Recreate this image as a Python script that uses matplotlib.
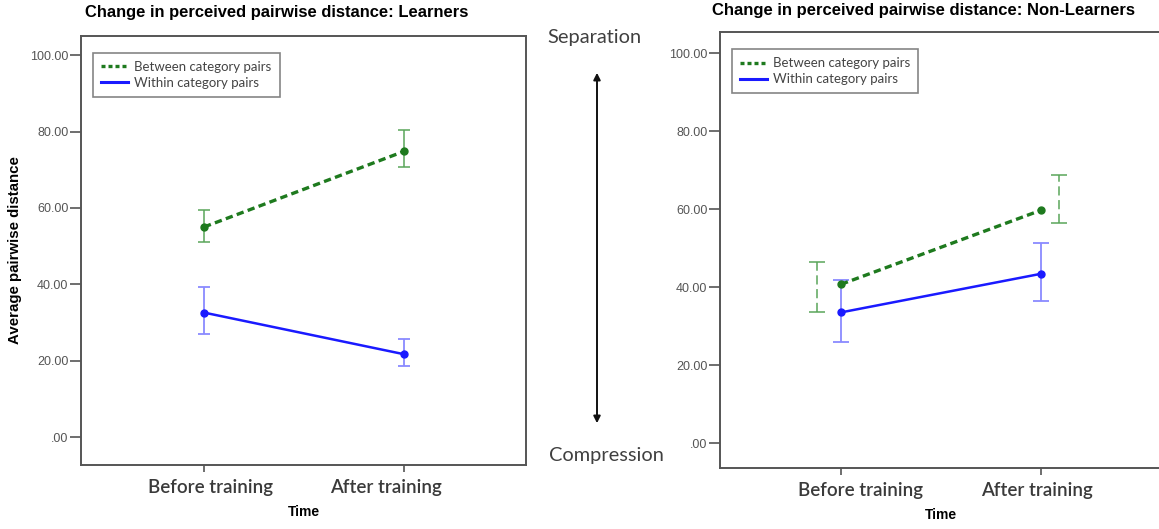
import matplotlib
matplotlib.use('Agg')
import matplotlib.pyplot as plt
from matplotlib.patches import FancyArrowPatch
from matplotlib.lines import Line2D

# --- Data ---
times = ['Before training', 'After training']

learn_between = [55.0, 74.8]
learn_between_lo = [51.2, 70.7]
learn_between_hi = [59.5, 80.4]
learn_within = [32.6, 21.7]
learn_within_lo = [27.0, 18.5]
learn_within_hi = [39.2, 25.7]

non_between = [40.8, 59.8]
non_between_lo = [33.7, 56.4]
non_between_hi = [46.4, 68.8]
non_within = [33.6, 43.5]
non_within_lo = [26.1, 36.6]
non_within_hi = [42.0, 51.3]

yticks = [0, 20, 40, 60, 80, 100]
ytick_labels = ['.00', '20.00', '40.00', '60.00', '80.00', '100.00']

GREEN = '#1e7a1e'
GREEN_ERR = '#5aa55a'
BLUE = '#1a1aff'
BLUE_ERR = '#8a8aff'
SPINE = '#555555'

W, H = 1159, 529
fig = plt.figure(figsize=(W / 100, H / 100), dpi=100)

ax1 = fig.add_axes([81 / W, 1 - 465 / H, 445 / W, 429 / H])
ax2 = fig.add_axes([720 / W, 1 - 468 / H, 442 / W, 436 / H])


def draw(ax, between, b_lo, b_hi, within, w_lo, w_hi, err_shift, dashed_err, caps,
         ylim, xlim, lab_shift):
    x = list(range(len(times)))
    # error bars
    ex = [xi + s for xi, s in zip(x, err_shift)]
    eb = ax.errorbar(ex, between, yerr=[[m - l for m, l in zip(between, b_lo)],
                                        [h - m for m, h in zip(between, b_hi)]],
                     fmt='none', ecolor=GREEN_ERR, elinewidth=1.1, capsize=caps, capthick=1.1, zorder=2)
    if dashed_err:
        for lc in eb[2]:
            lc.set_linestyle((0, (6, 3)))
    ax.errorbar(x, within, yerr=[[m - l for m, l in zip(within, w_lo)],
                                 [h - m for m, h in zip(within, w_hi)]],
                fmt='none', ecolor=BLUE_ERR, elinewidth=1.3, capsize=caps, capthick=1.3, zorder=2)
    # mean lines
    ax.plot(x, between, color=GREEN, lw=2.4, ls=(0, (2.2, 1.3)), marker='o', ms=5,
            label='Between category pairs', zorder=3)
    ax.plot(x, within, color=BLUE, lw=1.8, marker='o', ms=5,
            label='Within category pairs', zorder=3)

    ax.set_ylim(*ylim)
    ax.set_xlim(*xlim)
    ax.set_yticks(yticks)
    ax.set_yticklabels(ytick_labels, family='Liberation Sans', fontsize=9, color='#555555')
    ax.set_xticks(x)
    ax.set_xticklabels([''] * len(x))
    # category labels, nudged sideways like the original
    for xi, name, dx in zip(x, times, lab_shift):
        ax.annotate(name, xy=(xi, 0), xycoords=ax.get_xaxis_transform(),
                    xytext=(dx * 0.72, -10), textcoords='offset points',
                    ha='center', va='top', family='Lato', fontsize=13.5,
                    fontweight='semibold', color='#3a3a3a')
    ax.tick_params(axis='y', length=8, width=1.2, color=SPINE, pad=1)
    ax.tick_params(axis='x', length=5, width=1.2, color=SPINE, pad=5)
    for sp in ax.spines.values():
        sp.set_color(SPINE)
        sp.set_linewidth(1.4)
    ax.set_xlabel('Time', family='Liberation Sans', fontweight='bold', fontsize=10, labelpad=19)

    handles = [Line2D([], [], color=GREEN, lw=2.4, ls=(0, (1.2, 0.9))),
               Line2D([], [], color=BLUE, lw=2.2)]
    leg = ax.legend(handles, ['Between category pairs', 'Within category pairs'],
                    loc='upper left', bbox_to_anchor=(0.028, 0.96), borderaxespad=0,
                    frameon=True, fancybox=False, edgecolor='#666666',
                    prop={'family': 'Lato', 'size': 9.5}, handlelength=2.0,
                    handletextpad=0.5, labelspacing=0.3, borderpad=0.6)
    leg.get_frame().set_linewidth(1.2)
    for t in leg.get_texts():
        t.set_color('#444444')


draw(ax1, learn_between, learn_between_lo, learn_between_hi,
     learn_within, learn_within_lo, learn_within_hi,
     err_shift=[0, 0], dashed_err=False, caps=4, ylim=(-7.3, 105.0), xlim=(-0.615, 1.61),
     lab_shift=[6, -18])
draw(ax2, non_between, non_between_lo, non_between_hi,
     non_within, non_within_lo, non_within_hi,
     err_shift=[-0.12, 0.09], dashed_err=True, caps=6, ylim=(-6.3, 105.5), xlim=(-0.605, 1.605),
     lab_shift=[19, -4])

ax1.set_ylabel('Average pairwise distance', family='Liberation Sans', fontweight='bold',
               fontsize=10.8, labelpad=6)

fig.text(85 / W, 1 - 13 / H, 'Change in perceived pairwise distance: Learners',
         family='Liberation Sans', fontweight='bold', fontsize=11.9, va='center', ha='left')
fig.text(712 / W, 1 - 10 / H, 'Change in perceived pairwise distance: Non-Learners',
         family='Liberation Sans', fontweight='bold', fontsize=12, va='center', ha='left')

fig.text(594 / W, 1 - 38 / H, 'Separation', family='Lato', fontsize=14.4,
         color='#404040', ha='center', va='center')
fig.text(606 / W, 1 - 455 / H, 'Compression', family='Lato', fontsize=14.4,
         color='#404040', ha='center', va='center')
arrow = FancyArrowPatch((597 / W, 1 - 70 / H), (597 / W, 1 - 426 / H),
                        transform=fig.transFigure, arrowstyle='<|-|>',
                        mutation_scale=10, lw=1.4, color='#111111')
fig.add_artist(arrow)

fig.savefig('out.png', dpi=100)
